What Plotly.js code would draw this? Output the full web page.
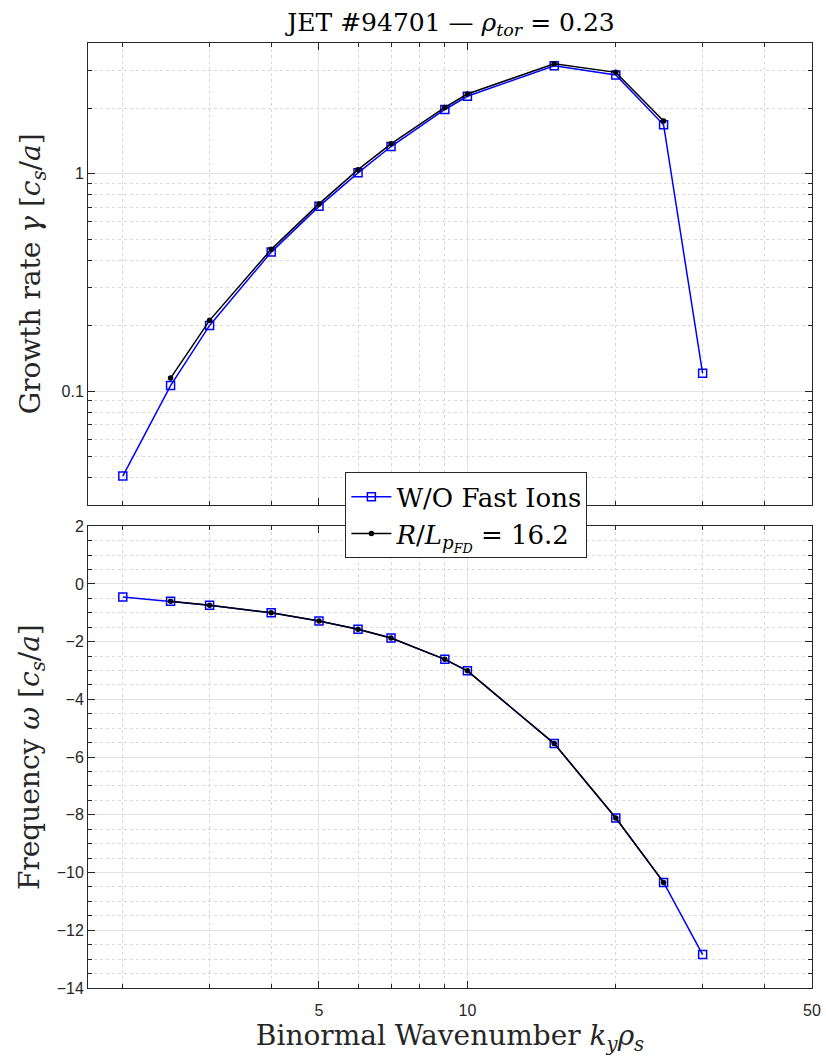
<!DOCTYPE html>
<html>
<head>
<meta charset="utf-8">
<script src="https://cdn.plot.ly/plotly-3.0.1.min.js"></script>
<style>html,body{margin:0;padding:0;background:#fff;}#chart{width:826px;height:1063px;}</style>
</head>
<body>
<div id="chart"></div>
<script>
// Binormal wavenumber k_y rho_s
const kyBlue = [2, 2.5, 3, 4, 5, 6, 7, 9, 10, 15, 20, 25, 30];
const kyBlack = [2.5, 3, 4, 5, 6, 7, 9, 10, 15, 20, 25];
// Growth rate gamma [c_s/a]
const gammaBlue = [0.0406, 0.106, 0.2005, 0.436, 0.708, 1.01, 1.335, 1.977, 2.275, 3.14, 2.85, 1.68, 0.1206];
const gammaBlack = [0.1147, 0.2115, 0.449, 0.727, 1.045, 1.374, 2.02, 2.33, 3.21, 2.93, 1.75];
// Frequency omega [c_s/a]
const omegaBlue = [-0.45, -0.60, -0.74, -1.00, -1.28, -1.57, -1.87, -2.61, -3.01, -5.53, -8.11, -10.34, -12.84];
const omegaBlack = [-0.60, -0.74, -1.00, -1.28, -1.57, -1.87, -2.61, -3.01, -5.53, -8.11, -10.34];
// Labels
const nameBlue = 'W/O Fast Ions';
const nameBlack = '<i>R</i>/<i>L</i><sub><i>p</i><sub><i>FD</i></sub></sub> = 16.2';
const xTicks = [5, 10, 50];
const xMinor = [2, 3, 4, 6, 7, 8, 9, 20, 30, 40];
const yTopTicks = [0.1, 1];
const yTopMinor = [0.04, 0.05, 0.06, 0.07, 0.08, 0.09, 0.2, 0.3, 0.4, 0.5, 0.6, 0.7, 0.8, 0.9, 2, 3, 4];

const serif = 'DejaVu Serif, Liberation Serif, serif';
const sans = 'Liberation Sans, Arial, Helvetica, sans-serif';
const axCol = '#262626';
const gridCol = '#e3e3e3';
const minorGridCol = '#d9d9d9';

const blueStyle = {mode: 'lines+markers', line: {color: '#0000ff', width: 1.5},
  marker: {symbol: 'square-open', size: 8, color: '#0000ff', line: {width: 1.5}}};
const blackStyle = {mode: 'lines+markers', line: {color: '#000000', width: 1.5},
  marker: {symbol: 'circle', size: 5.5, color: '#000000'}};

const traces = [
  Object.assign({x: kyBlue, y: gammaBlue, name: nameBlue, xaxis: 'x', yaxis: 'y'}, blueStyle),
  Object.assign({x: kyBlack, y: gammaBlack, name: nameBlack, xaxis: 'x', yaxis: 'y'}, blackStyle),
  Object.assign({x: kyBlue, y: omegaBlue, name: nameBlue, xaxis: 'x2', yaxis: 'y2', showlegend: false}, blueStyle),
  Object.assign({x: kyBlack, y: omegaBlack, name: nameBlack, xaxis: 'x2', yaxis: 'y2', showlegend: false}, blackStyle)
];

const xRange = [Math.log10(1.7), Math.log10(50)];
function xAxis(anchor, showLabels, title) {
  return {
    type: 'log', range: xRange, anchor: anchor, domain: [0, 1],
    tickmode: 'array', tickvals: xTicks, ticktext: xTicks.map(String),
    showticklabels: showLabels, ticklabelstandoff: 8,
    ticks: 'inside', ticklen: 7, tickcolor: axCol, tickwidth: 1,
    showline: true, linecolor: axCol, linewidth: 1, mirror: 'allticks',
    showgrid: true, gridcolor: gridCol, gridwidth: 1, zeroline: false,
    tickfont: {family: sans, size: 16, color: axCol},
    minor: {tickmode: 'array', tickvals: xMinor, ticks: 'inside', ticklen: 4, tickcolor: axCol,
            showgrid: true, gridcolor: minorGridCol, griddash: 'dot', gridwidth: 1},
    title: title ? {text: title, font: {family: serif, size: 28, color: axCol}, standoff: 4} : undefined
  };
}

const layout = {
  width: 826, height: 1063,
  margin: {l: 88, r: 14, t: 43, b: 75},
  paper_bgcolor: '#ffffff', plot_bgcolor: '#ffffff',
  showlegend: true,
  title: {text: 'JET #94701 — <i>ρ</i><sub><i>tor</i></sub> = 0.23',
          font: {family: serif, size: 25, color: '#000'},
          x: 451/826, xanchor: 'center', y: 1 - 22/1063, yanchor: 'middle', yref: 'container', xref: 'container'},
  xaxis: xAxis('y', false, null),
  xaxis2: xAxis('y2', true, 'Binormal Wavenumber <i>k</i><sub><i>y</i></sub><i>ρ</i><sub><i>s</i></sub>'),
  yaxis: {
    type: 'log', range: [Math.log10(0.03), Math.log10(4)], domain: [0.5115, 1], anchor: 'x',
    tickmode: 'array', tickvals: yTopTicks, ticktext: ['0.1', '1'],
    ticks: 'inside', ticklen: 7, tickcolor: axCol,
    showline: true, linecolor: axCol, linewidth: 1, mirror: 'allticks',
    showgrid: true, gridcolor: gridCol, zeroline: false,
    tickfont: {family: sans, size: 16, color: axCol},
    minor: {tickmode: 'array', tickvals: yTopMinor, ticks: 'inside', ticklen: 4, tickcolor: axCol,
            showgrid: true, gridcolor: minorGridCol, griddash: 'dot', gridwidth: 1},
    title: {text: 'Growth rate <i>γ</i> [<i>c</i><sub><i>s</i></sub>/<i>a</i>]', font: {family: serif, size: 28, color: axCol}, standoff: 12}
  },
  yaxis2: {
    range: [-14, 2], domain: [0, 0.4886], anchor: 'x2',
    tickmode: 'linear', tick0: 0, dtick: 2,
    ticks: 'inside', ticklen: 7, tickcolor: axCol,
    showline: true, linecolor: axCol, linewidth: 1, mirror: 'allticks',
    showgrid: true, gridcolor: gridCol, zeroline: false,
    tickfont: {family: sans, size: 16, color: axCol},
    minor: {dtick: 0.5, ticks: 'inside', ticklen: 4, tickcolor: axCol,
            showgrid: true, gridcolor: minorGridCol, griddash: 'dot', gridwidth: 1},
    title: {text: 'Frequency <i>ω</i> [<i>c</i><sub><i>s</i></sub>/<i>a</i>]', font: {family: serif, size: 28, color: axCol}, standoff: 8}
  },
  legend: {
    x: 0.3555, y: 0.5457, xanchor: 'left', yanchor: 'top',
    bgcolor: '#ffffff', bordercolor: axCol, borderwidth: 1,
    font: {family: serif, size: 26, color: '#000'},
    tracegroupgap: 0, itemwidth: 40
  }
};

Plotly.newPlot('chart', traces, layout, {displayModeBar: false, staticPlot: true});
</script>
</body>
</html>
